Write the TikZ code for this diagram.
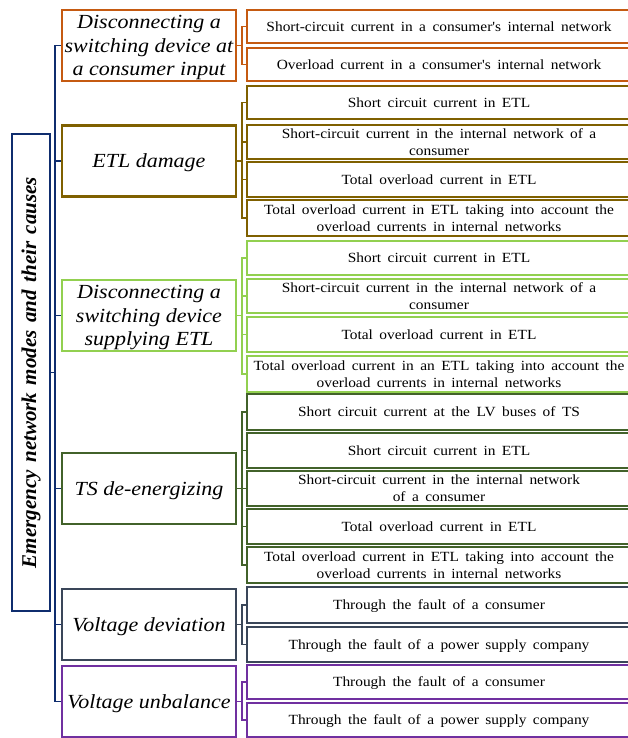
\documentclass[tikz,border=0pt]{standalone}
\usepackage{fontspec}
\setmainfont{Liberation Serif}
\newfontfamily\wideserif{Liberation Serif}[FakeStretch=1.1]
\newcommand\setwordgap[1]{\spaceskip=#1\relax}

\definecolor{cNavy}{HTML}{0F2D6E}
\definecolor{cOrange}{HTML}{C55A11}
\definecolor{cBrown}{HTML}{7F6000}
\definecolor{cLime}{HTML}{92D050}
\definecolor{cForest}{HTML}{42622A}
\definecolor{cSlate}{HTML}{3A4659}
\definecolor{cPurple}{HTML}{7030A0}

\tikzset{
  modebox/.style={draw=#1, line width=2.4pt, inner sep=0pt,
    minimum width=174pt, minimum height=71pt, align=center, text depth=0pt,
    font=\wideserif\itshape\fontsize{20}{23.5}\selectfont},
  causebox/.style={draw=#1, line width=2.4pt, inner sep=0pt,
    minimum width=384pt, align=center, text depth=0pt,
    font=\wideserif\fontsize{14}{17}\selectfont\setwordgap{0.46em plus 0.1em minus 0.05em}},
  trunk/.style={draw=cNavy, line width=1.3pt},
  link/.style={draw=#1, line width=1.2pt},
}

\begin{document}
\begin{tikzpicture}[x=1pt, y=-1pt]
\useasboundingbox (0,0) rectangle (627,738);

% root box with vertical title
\node[rotate=90, draw=cNavy, line width=2.4pt, inner sep=0pt,
      minimum width=477pt, minimum height=38pt,
      font=\bfseries\itshape\fontsize{21}{24}\selectfont\setwordgap{0.36em}]
  (root) at (31,372.5) {Emergency network modes and their causes};

% emergency modes
\node[modebox=cOrange] (m1) at (149,45.5)  {Disconnecting a\\switching device at\\a consumer input};
\node[modebox=cBrown]  (m2) at (149,161)   {ETL damage};
\node[modebox=cLime]   (m3) at (149,315.5) {Disconnecting a\\switching device\\supplying ETL};
\node[modebox=cForest] (m4) at (149,488.5) {TS de-energizing};
\node[modebox=cSlate]  (m5) at (149,624.5) {Voltage deviation};
\node[modebox=cPurple] (m6) at (149,701.5) {Voltage unbalance};

% causes
\node[causebox=cOrange, minimum height=33pt] (c11) at (439,26.5) {Short-circuit current in a consumer's internal network};
\node[causebox=cOrange, minimum height=33pt] (c12) at (439,64.5) {Overload current in a consumer's internal network};

\node[causebox=cBrown, minimum height=33pt] (c21) at (439,102.5) {Short circuit current in ETL};
\node[causebox=cBrown, minimum height=34pt] (c22) at (439,142)   {Short-circuit current in the internal network of a\\consumer};
\node[causebox=cBrown, minimum height=35pt] (c23) at (439,179.5) {Total overload current in ETL};
\node[causebox=cBrown, minimum height=36pt] (c24) at (439,218)   {Total overload current in ETL taking into account the\\overload currents in internal networks};

\node[causebox=cLime, minimum height=34pt] (c31) at (439,258)   {Short circuit current in ETL};
\node[causebox=cLime, minimum height=34pt] (c32) at (439,296)   {Short-circuit current in the internal network of a\\consumer};
\node[causebox=cLime, minimum height=35pt] (c33) at (439,334.5) {Total overload current in ETL};
\node[causebox=cLime, minimum height=36pt] (c34) at (439,374)   {Total overload current in an ETL taking into account the\\overload currents in internal networks};

\node[causebox=cForest, minimum height=36pt] (c41) at (439,412)   {Short circuit current at the LV buses of TS};
\node[causebox=cForest, minimum height=35pt] (c42) at (439,450.5) {Short circuit current in ETL};
\node[causebox=cForest, minimum height=35pt] (c43) at (439,488.5) {Short-circuit current in the internal network\\of a consumer};
\node[causebox=cForest, minimum height=35pt] (c44) at (439,526.5) {Total overload current in ETL};
\node[causebox=cForest, minimum height=36pt] (c45) at (439,565)   {Total overload current in ETL taking into account the\\overload currents in internal networks};

\node[causebox=cSlate, minimum height=36pt] (c51) at (439,605)   {Through the fault of a consumer};
\node[causebox=cSlate, minimum height=35pt] (c52) at (439,644.5) {Through the fault of a power supply company};

\node[causebox=cPurple, minimum height=34pt] (c61) at (439,682) {Through the fault of a consumer};
\node[causebox=cPurple, minimum height=34pt] (c62) at (439,720) {Through the fault of a power supply company};

% trunk from the root box to every mode
\coordinate (tk) at (55,0);
\draw[trunk] (m1.west -| tk) -- (m6.west -| tk);
\draw[trunk] (root.south) -- (root.south -| tk);
\foreach \m in {m1,m2,m3,m4,m5,m6}
  \draw[trunk] (\m.west -| tk) -- (\m.west);

% branches from each mode to its causes
\coordinate (bus) at (242,0);
\foreach \m/\c/\col in {m1/c11/cOrange, m1/c12/cOrange,
    m2/c21/cBrown, m2/c22/cBrown, m2/c23/cBrown, m2/c24/cBrown,
    m3/c31/cLime, m3/c32/cLime, m3/c33/cLime, m3/c34/cLime,
    m4/c41/cForest, m4/c42/cForest, m4/c43/cForest, m4/c44/cForest, m4/c45/cForest,
    m5/c51/cSlate, m5/c52/cSlate,
    m6/c61/cPurple, m6/c62/cPurple}
  \draw[link=\col] (\m.east) -- (\m.east -| bus) |- (\c.west);
\end{tikzpicture}
\end{document}
